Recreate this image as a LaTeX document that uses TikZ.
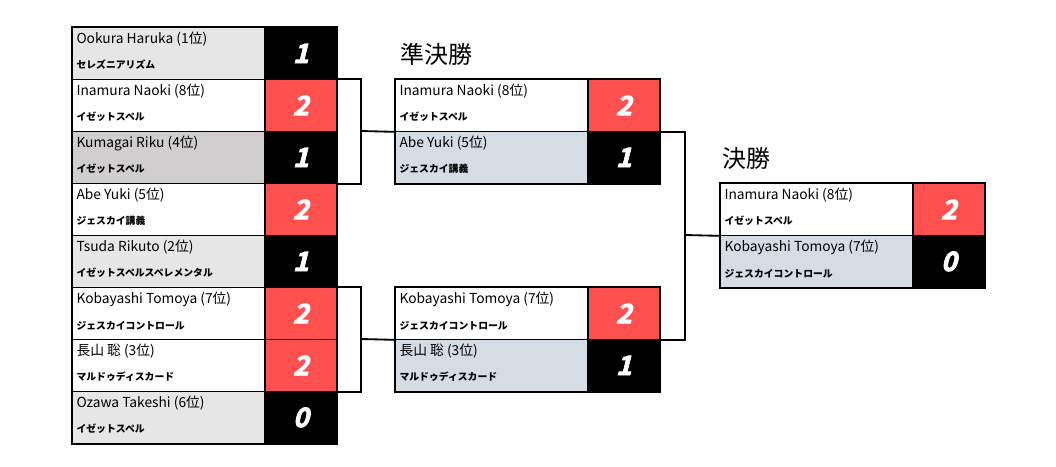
\documentclass[tikz,border=0pt]{standalone}
\usepackage{fontspec}
\setmainfont{Noto Sans CJK JP}
\newfontfamily\scorefont[FakeSlant=0.25,FakeBold=3]{Noto Sans CJK JP Bold}
\usetikzlibrary{positioning, calc}
\definecolor{scorered}{RGB}{255, 80, 80}
\definecolor{rowgray}{RGB}{231, 230, 230}
\definecolor{rowdark}{RGB}{208, 206, 206}
\definecolor{rowblue}{RGB}{214, 220, 228}
\tikzset{
  namecell/.style={rectangle, draw=black, line width=0.6pt, anchor=north west, minimum width=4.8cm, minimum height=1.3cm, inner sep=0pt},
  scorecell/.style={rectangle, draw=black, line width=0.6pt, minimum width=1.775cm, minimum height=1.3cm, inner sep=0pt, text=white, font=\scorefont\fontsize{19}{19}\selectfont},
  nametext/.style={anchor=north west, inner sep=0pt, font=\fontsize{9.8}{10}\selectfont},
  teamtext/.style={anchor=south west, inner sep=0pt, font=\bfseries\fontsize{7}{7}\selectfont},
  link/.style={line width=1.3pt, black},
  frame/.style={line width=1.6pt, black},
  roundtitle/.style={anchor=south west, inner sep=0pt, font=\fontsize{17}{18}\selectfont}
}
% one row of the bracket: id, x, y, fill, name, team, score, score fill
\newcommand{\entry}[8]{%
  \node[namecell, fill=#4] (#1) at (#2,#3) {};
  \node[nametext] at ([xshift=3pt,yshift=-3pt]#1.north west) {#5};
  \node[teamtext] at ([xshift=3pt,yshift=7pt]#1.south west) {#6};
  \node[scorecell, fill=#8, right=0pt of #1] (#1s) {#7};
}
\begin{document}
\begin{tikzpicture}[x=0.025cm, y=-0.025cm]
\useasboundingbox[fill=white] (0,0) rectangle (1056,466);
% first round
\entry{r1}{72}{27}{rowgray}{Ookura Haruka (1位)}{セレズニアリズム}{1}{black}
\entry{r2}{72}{79}{white}{Inamura Naoki (8位)}{イゼットスペル}{2}{scorered}
\entry{r3}{72}{131}{rowdark}{Kumagai Riku (4位)}{イゼットスペル}{1}{black}
\entry{r4}{72}{183}{white}{Abe Yuki (5位)}{ジェスカイ講義}{2}{scorered}
\entry{r5}{72}{235}{rowgray}{Tsuda Rikuto (2位)}{イゼットスペルスペレメンタル}{1}{black}
\entry{r6}{72}{287}{white}{Kobayashi Tomoya (7位)}{ジェスカイコントロール}{2}{scorered}
\entry{r7}{72}{339}{white}{長山 聡 (3位)}{マルドゥディスカード}{2}{scorered}
\entry{r8}{72}{391}{rowgray}{Ozawa Takeshi (6位)}{イゼットスペル}{0}{black}
\draw[frame] (r1.north west) rectangle (r8s.south east);
% semifinals
\node[roundtitle] (semititle) at (400,66) {準決勝};
\entry{s1}{395}{79}{white}{Inamura Naoki (8位)}{イゼットスペル}{2}{scorered}
\entry{s2}{395}{131}{rowblue}{Abe Yuki (5位)}{ジェスカイ講義}{1}{black}
\draw[frame] (s1.north west) rectangle (s2s.south east);
\entry{s3}{395}{287}{white}{Kobayashi Tomoya (7位)}{ジェスカイコントロール}{2}{scorered}
\entry{s4}{395}{339}{rowblue}{長山 聡 (3位)}{マルドゥディスカード}{1}{black}
\draw[frame] (s3.north west) rectangle (s4s.south east);
% final
\node[roundtitle] (finaltitle) at (722,170) {決勝};
\entry{f1}{720}{183}{white}{Inamura Naoki (8位)}{イゼットスペル}{2}{scorered}
\entry{f2}{720}{235}{rowblue}{Kobayashi Tomoya (7位)}{ジェスカイコントロール}{0}{black}
\draw[frame] (f1.north west) rectangle (f2s.south east);
% bracket lines
\coordinate (j1) at (361,131);
\coordinate (j2) at (361,339);
\coordinate (j3) at (685,235);
\draw[link] (r2s.north east) -| (j1) |- (r3s.south east);
\draw[link] (j1) -- (s1.south west);
\draw[link] (r6s.north east) -| (j2) |- (r7s.south east);
\draw[link] (j2) -- (s3.south west);
\draw[link] (s1s.south east) -| (j3) |- (s3s.south east);
\draw[link] (j3) -- (f1.south west);
\end{tikzpicture}
\end{document}
